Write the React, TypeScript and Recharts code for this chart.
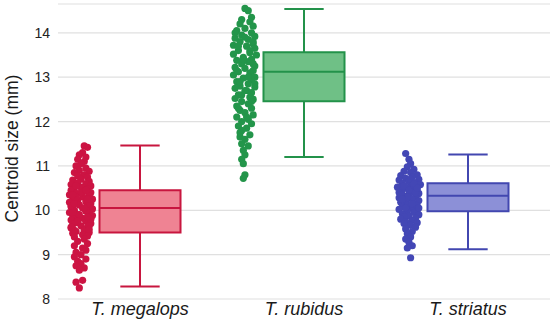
import React from 'react';
import {
  ComposedChart,
  Scatter,
  XAxis,
  YAxis,
  CartesianGrid,
  ReferenceArea,
  ReferenceLine,
  Label,
} from 'recharts';

const categories = ['T. megalops', 'T. rubidus', 'T. striatus'];
const yTicks = [8, 9, 10, 11, 12, 13, 14];

// [min, q1, median, q3, max]
const megalopsBox = [8.28, 9.5, 10.05, 10.45, 11.46];
const rubidusBox = [11.2, 12.46, 13.12, 13.56, 14.54];
const striatusBox = [9.12, 9.98, 10.33, 10.61, 11.26];

// [jitter, value]
const megalopsPoints: [number, number][] = [
  [0.02, 11.45], [0.04, 11.42], [0.01, 11.3], [-0.01, 11.25], [0.03, 11.2], [-0.02, 11.15], [0.02, 11.1], [0.0, 11.05],
  [-0.03, 11.0], [0.03, 10.95], [-0.01, 10.9], [0.05, 10.88], [-0.04, 10.85], [0.02, 10.8], [-0.02, 10.78], [0.04, 10.75],
  [0.0, 10.7], [-0.05, 10.68], [0.05, 10.65], [-0.02, 10.62], [0.03, 10.6], [-0.06, 10.58], [0.06, 10.55], [0.0, 10.52],
  [-0.04, 10.5], [0.04, 10.48], [-0.06, 10.45], [0.02, 10.43], [0.06, 10.4], [-0.03, 10.38], [-0.07, 10.35], [0.05, 10.33],
  [0.01, 10.3], [-0.05, 10.28], [0.07, 10.25], [-0.02, 10.22], [0.03, 10.2], [-0.07, 10.18], [0.06, 10.15], [-0.01, 10.12],
  [0.04, 10.1], [-0.06, 10.08], [0.01, 10.05], [0.07, 10.03], [-0.04, 10.0], [0.03, 9.98], [-0.07, 9.95], [0.05, 9.93],
  [-0.02, 9.9], [0.07, 9.88], [-0.05, 9.85], [0.01, 9.82], [0.05, 9.8], [-0.06, 9.78], [0.03, 9.75], [-0.03, 9.72],
  [0.06, 9.7], [-0.05, 9.68], [0.0, 9.65], [0.04, 9.62], [-0.06, 9.6], [0.02, 9.55], [-0.03, 9.52], [0.05, 9.5],
  [-0.05, 9.48], [0.01, 9.45], [0.04, 9.42], [-0.04, 9.4], [0.02, 9.35], [-0.02, 9.3], [0.04, 9.25], [-0.04, 9.2],
  [0.01, 9.15], [0.03, 9.1], [-0.03, 9.05], [0.0, 9.0], [-0.04, 8.95], [0.03, 8.9], [-0.02, 8.85], [0.0, 8.8],
  [-0.03, 8.75], [0.02, 8.7], [-0.01, 8.65], [0.01, 8.42], [-0.03, 8.38], [-0.01, 8.25],
  [0.0, 10.4], [-0.03, 10.3], [0.05, 10.2], [-0.06, 10.1], [0.03, 10.0], [-0.01, 9.9], [0.06, 9.8], [-0.04, 10.15],
  [0.02, 10.05], [-0.05, 9.95], [0.04, 9.85], [-0.05, 10.35], [0.04, 10.25], [-0.02, 9.75], [0.05, 9.65], [-0.04, 9.55],
  [0.03, 10.45], [-0.03, 10.55], [0.05, 9.57], [-0.06, 9.62],
];

const rubidusPoints: [number, number][] = [
  [0.0, 14.55], [0.02, 14.5], [0.04, 14.35], [-0.02, 14.3], [0.03, 14.25], [-0.03, 14.2], [0.05, 14.15], [0.0, 14.1],
  [-0.05, 14.05], [0.04, 14.0], [-0.02, 13.95], [0.06, 13.92], [-0.06, 13.88], [0.02, 13.85], [-0.03, 13.8], [0.05, 13.75],
  [-0.07, 13.72], [0.01, 13.7], [0.06, 13.65], [-0.04, 13.6], [0.03, 13.55], [-0.07, 13.52], [0.07, 13.5], [-0.01, 13.45],
  [0.04, 13.4], [-0.05, 13.38], [0.02, 13.35], [-0.02, 13.3], [0.06, 13.25], [-0.06, 13.22], [0.0, 13.2], [0.05, 13.15],
  [-0.04, 13.12], [0.03, 13.1], [-0.07, 13.05], [0.06, 13.0], [-0.01, 12.98], [0.04, 12.95], [-0.05, 12.9], [0.02, 12.85],
  [-0.03, 12.8], [0.06, 12.78], [-0.06, 12.75], [0.01, 12.7], [0.04, 12.65], [-0.04, 12.6], [0.03, 12.55], [-0.06, 12.52],
  [0.05, 12.5], [-0.02, 12.45], [0.02, 12.4], [-0.05, 12.35], [0.04, 12.3], [-0.03, 12.25], [0.0, 12.2], [0.05, 12.15],
  [-0.05, 12.1], [0.02, 12.05], [-0.02, 12.0], [0.04, 11.95], [-0.04, 11.9], [0.01, 11.85], [-0.02, 11.8], [0.03, 11.7],
  [-0.03, 11.65], [0.0, 11.6], [-0.02, 11.5], [0.02, 11.45], [-0.01, 11.35], [0.0, 11.25], [-0.02, 11.15], [-0.01, 11.05],
  [0.0, 10.8], [-0.01, 10.72],
  [0.0, 13.9], [-0.04, 13.7], [0.03, 13.6], [-0.01, 13.4], [0.05, 13.3], [-0.05, 13.15], [0.02, 13.0], [-0.03, 12.9],
  [0.06, 12.85], [-0.02, 12.6], [0.04, 12.45], [-0.04, 12.3], [0.01, 12.1], [0.05, 13.8], [-0.06, 14.0], [0.0, 12.7],
  [-0.03, 11.75],
];

const striatusPoints: [number, number][] = [
  [-0.02, 11.28], [0.0, 11.15], [0.01, 11.05], [-0.01, 10.98], [0.03, 10.92], [-0.03, 10.88], [0.01, 10.85], [0.05, 10.8],
  [-0.05, 10.78], [0.02, 10.75], [-0.02, 10.72], [0.06, 10.7], [-0.06, 10.68], [0.0, 10.65], [0.04, 10.62], [-0.04, 10.6],
  [0.07, 10.58], [0.02, 10.55], [-0.07, 10.52], [-0.01, 10.5], [0.05, 10.48], [-0.04, 10.45], [0.03, 10.42], [-0.06, 10.4],
  [0.06, 10.38], [0.0, 10.35], [-0.03, 10.32], [0.04, 10.3], [-0.06, 10.28], [0.02, 10.25], [0.06, 10.22], [-0.02, 10.2],
  [-0.05, 10.18], [0.03, 10.15], [0.0, 10.12], [0.05, 10.1], [-0.04, 10.08], [0.02, 10.05], [-0.06, 10.02], [0.05, 10.0],
  [-0.01, 9.98], [0.03, 9.95], [-0.04, 9.92], [0.06, 9.9], [0.0, 9.87], [-0.03, 9.85], [0.04, 9.82], [-0.05, 9.8],
  [0.02, 9.77], [-0.02, 9.74], [0.05, 9.72], [-0.03, 9.7], [0.01, 9.66], [0.04, 9.62], [-0.02, 9.58], [0.02, 9.52],
  [-0.01, 9.47], [0.01, 9.4], [-0.02, 9.35], [0.0, 9.28], [0.02, 9.2], [-0.01, 9.15], [0.01, 8.93],
  [0.01, 10.7], [-0.03, 10.55], [0.04, 10.4], [-0.01, 10.3], [0.03, 10.6], [-0.05, 10.35], [0.02, 10.15], [-0.02, 10.05],
  [0.05, 10.5], [-0.04, 10.25], [0.0, 10.45], [0.06, 10.05],
];

const allPoints = [megalopsPoints, rubidusPoints, striatusPoints];
const allBoxes = [megalopsBox, rubidusBox, striatusBox];

const styles = [
  { dot: '#cc1443', stroke: '#c8163f', fill: '#ef8393' },
  { dot: '#23954a', stroke: '#23924a', fill: '#6fc086' },
  { dot: '#4347b5', stroke: '#4247b0', fill: '#8c90d7' },
];

const POINT_OFFSET = -0.36;
const BOX_HALF = 0.247;
const CAP_HALF = 0.12;
const FONT = "'Liberation Sans', Arial, sans-serif";

export default function App() {
  const scatterData = allPoints.map((pts, i) =>
    pts.map(([dx, y]) => ({ x: i + 0.5 + POINT_OFFSET + dx, y }))
  );

  return (
    <div style={{ position: 'absolute', left: 0, top: 0 }}>
      <ComposedChart
        width={550}
        height={322}
        margin={{ top: 4, right: 0, bottom: 0, left: 0 }}
        style={{ fontFamily: FONT }}
      >
        <CartesianGrid vertical={false} stroke="#e0e0e0" strokeWidth={1.2} />
        <XAxis
          type="number"
          dataKey="x"
          domain={[0, 3]}
          ticks={[0.5, 1.5, 2.5]}
          tickFormatter={(v: number) => categories[Math.floor(v)]}
          axisLine={false}
          tickLine={false}
          tickSize={0}
          tickMargin={3}
          height={23}
          allowDataOverflow
          tick={{ fontSize: 18, fontStyle: 'italic', fill: '#1a1a1a', fontFamily: FONT }}
        />
        <YAxis
          type="number"
          dataKey="y"
          domain={[8, 14.65]}
          ticks={yTicks}
          allowDataOverflow
          axisLine={false}
          tickLine={false}
          width={58}
          tick={{ fontSize: 14, fill: '#222', fontFamily: FONT }}
        >
          <Label
            content={(props: any) => {
              const vb = props.viewBox || { x: 0, y: 4, width: 58, height: 295 };
              const x = vb.x + 18;
              const y = vb.y + vb.height / 2 - 3;
              return (
                <text
                  x={x}
                  y={y}
                  transform={`rotate(-90 ${x} ${y})`}
                  textAnchor="middle"
                  fontSize={17.5}
                  fill="#1a1a1a"
                  fontFamily={FONT}
                >
                  Centroid size (mm)
                </text>
              );
            }}
          />
        </YAxis>

        {allBoxes.map((b, i) => {
          const c = i + 0.5;
          const [mn, q1, med, q3, mx] = b;
          const s = styles[i];
          return (
            <React.Fragment key={`box-${i}`}>
              <ReferenceLine segment={[{ x: c, y: q3 }, { x: c, y: mx }]} stroke={s.stroke} strokeWidth={2} />
              <ReferenceLine segment={[{ x: c, y: mn }, { x: c, y: q1 }]} stroke={s.stroke} strokeWidth={2} />
              <ReferenceLine segment={[{ x: c - CAP_HALF, y: mx }, { x: c + CAP_HALF, y: mx }]} stroke={s.stroke} strokeWidth={2} />
              <ReferenceLine segment={[{ x: c - CAP_HALF, y: mn }, { x: c + CAP_HALF, y: mn }]} stroke={s.stroke} strokeWidth={2} />
              <ReferenceArea
                x1={c - BOX_HALF}
                x2={c + BOX_HALF}
                y1={q1}
                y2={q3}
                fill={s.fill}
                fillOpacity={1}
                stroke={s.stroke}
                strokeWidth={2}
              />
              <ReferenceLine segment={[{ x: c - BOX_HALF, y: med }, { x: c + BOX_HALF, y: med }]} stroke={s.stroke} strokeWidth={2} />
            </React.Fragment>
          );
        })}

        {scatterData.map((d, i) => (
          <Scatter
            key={`sc-${i}`}
            data={d}
            isAnimationActive={false}
            shape={(p: any) => <circle cx={p.cx} cy={p.cy} r={3.6} fill={styles[i].dot} />}
          />
        ))}
      </ComposedChart>
    </div>
  );
}
